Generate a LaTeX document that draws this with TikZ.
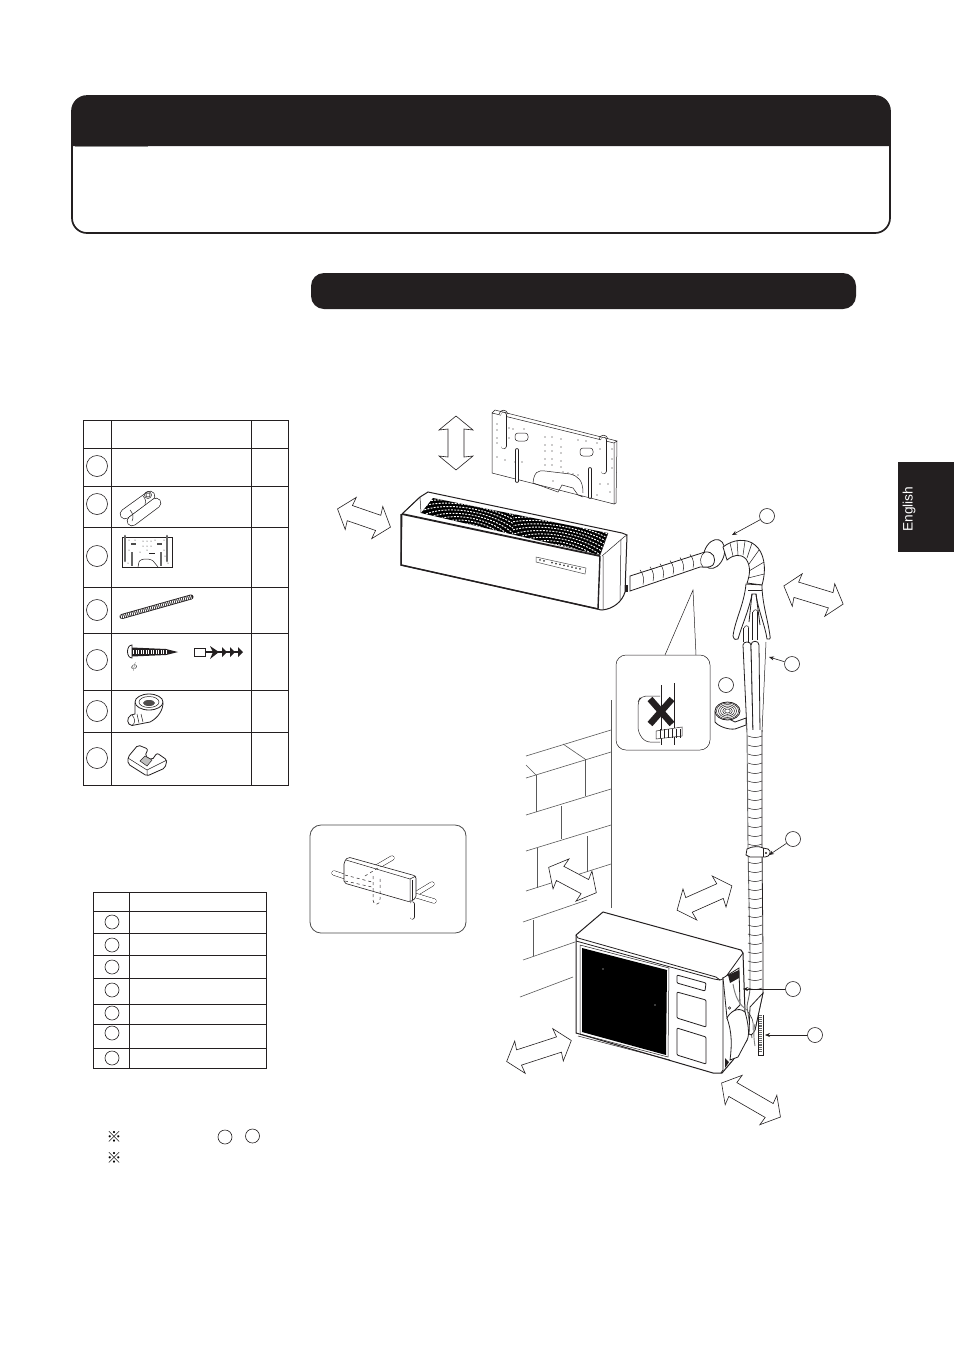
\documentclass[tikz,border=0pt]{standalone}
\usepackage{fontspec}
\setmainfont{Liberation Sans}
\newfontfamily\markfont{Noto Sans CJK SC}
\usetikzlibrary{arrows.meta}
\definecolor{inkblack}{HTML}{231F20}
\tikzset{
  outline/.style={draw=inkblack,line width=0.8pt},
  thinline/.style={draw=inkblack,line width=0.5pt},
  wallline/.style={draw=black!65,line width=0.6pt},
  callout/.style={circle,draw=inkblack,line width=0.6pt,inner sep=0pt,minimum size=15pt},
  bigmark/.style={circle,draw=inkblack,line width=0.6pt,inner sep=0pt,minimum size=21pt},
  smallmark/.style={circle,draw=inkblack,line width=0.6pt,inner sep=0pt,minimum size=14pt},
  callarrow/.style={draw=inkblack,line width=0.6pt,-{Stealth[length=5pt,width=4pt]}},
  tube/.style={draw=inkblack,double=white,double distance=4pt,line width=0.5pt,line cap=round},
  fattube/.style={draw=inkblack,double=white,double distance=9pt,line width=0.7pt,line cap=round},
  grilleline/.style={draw=white,line width=0.95pt,dash pattern=on 1.9pt off 1.3pt},
}
% wide double headed arrow: centre x, centre y, angle, half length
\newcommand{\widearrow}[4]{
  \draw[outline,fill=white,line width=0.6pt,shift={(#1,#2)},rotate=#3]
    (-#4,0) -- (-#4+14,17) -- (-#4+13,8) -- (#4-13,8) -- (#4-14,17) -- (#4,0)
    -- (#4-14,-17) -- (#4-13,-8) -- (-#4+13,-8) -- (-#4+14,-17) -- cycle;
}
\begin{document}
\begin{tikzpicture}[x=1pt,y=-1pt]
  \useasboundingbox (0,0) rectangle (954,1350);
  \fill[white] (0,0) rectangle (954,1350);

  % Header
  \draw[inkblack,line width=1.7pt,rounded corners=15pt] (72,96) rectangle (890,233);
  \fill[inkblack] (72,146) -- (72,111) .. controls (72,102) and (78,96) .. (87,96)
    -- (875,96) .. controls (884,96) and (890,102) .. (890,111) -- (890,146) -- cycle;
  \draw[black!45,line width=0.8pt] (75,146.5) -- (148,146.5);
  \fill[inkblack,rounded corners=13pt] (311,273) rectangle (856,309);

  % Language tab
  \fill[inkblack] (898,462) rectangle (954,552);
  \node[rotate=90,text=white,font=\fontsize{13.7}{16}\selectfont] (language) at (909,509) {English};

  % Parts table
  \draw[outline] (83,420) rectangle (288,785.5);
  \foreach \yy in {448,486,527,587,633,690,732} {
    \draw[outline] (83,\yy) -- (288,\yy);
  }
  \draw[outline] (111.5,420) -- (111.5,785.5);
  \draw[outline] (251,420) -- (251,785.5);
  \foreach \i/\yy in {1/466,2/504,3/556,4/610,5/660,6/711,7/758} {
    \node[bigmark] (part\i) at (97,\yy) {};
  }

  % Parts: tubes
  \draw[fattube] (125,514) -- (150,496);
  \draw[fattube] (132,521) -- (156,503);
  \draw[thinline] (148,495) circle (3.5pt) (148,495) circle (2pt);
  \draw[thinline] (130,510) .. controls (133,513) and (134,518) .. (132,521);
  \draw[thinline] (143,496) .. controls (146,499) and (146,502) .. (145,505);

  % Parts: small plate
  \draw[thinline,fill=white] (122,537) rectangle (172,567);
  \draw[draw=black!60,line width=2.6pt,line cap=round] (125,536) -- (125,561);
  \draw[draw=black!60,line width=2.6pt,line cap=round] (167,536) -- (167,561);
  \draw[draw=black!60,line width=2pt] (132,552) -- (132,566);
  \draw[draw=black!60,line width=2pt] (161,552) -- (161,566);
  \draw[thinline] (138,567) -- (139,562) .. controls (140,558) and (152,558) .. (154,562) -- (158,567);
  \draw[black!70,line width=2.2pt] (131,544) -- (136,544) (157,544) -- (162,544);
  \draw[inkblack,line width=0.8pt] (149,553) -- (155,553);
  \foreach \xx/\yy in {129/540,129/550,143/541,147/541,151/541,143/546,147/546,151/546,147/550,140/552,164/540,164/550,155/540,135/540,128/563,168/563,165/556} {
    \fill[inkblack] (\xx,\yy) circle (0.5pt);
  }

  % Parts: threaded rod
  \draw[inkblack,line width=5pt,line cap=round] (122,616.5) -- (191,597);
  \draw[white,line width=3.4pt,dash pattern=on 0.9pt off 1pt] (121,616.8) -- (192,596.7);

  % Parts: screw and anchor
  \draw[outline,fill=white] (132,645) .. controls (126,645) and (126,658) .. (132,658) -- cycle;
  \fill[inkblack] (132,647.5) -- (166,649) -- (178,652) -- (166,655) -- (132,656.5) -- cycle;
  \draw[white,line width=4pt,dash pattern=on 1pt off 1.5pt] (133,652) -- (166,652);
  \node[font=\normalsize] (screwsize) at (134,667) {$\phi$};
  \draw[thinline,fill=white] (194,648) rectangle (205,656);
  \draw[inkblack,line width=1.3pt] (205,652) -- (240,652);
  \fill[inkblack] (210,646) -- (219,652) -- (210,659) -- (213,652) -- cycle;
  \foreach \xx in {222,230,238} {\fill[inkblack] (\xx,647) -- (\xx+5,652) -- (\xx,657) -- cycle;}

  % Parts: drain elbow
  \draw[outline,fill=white] (135,703) -- (135,714) -- (131,715) .. controls (126,718) and (127,725) .. (132,725.5)
    -- (150,722) .. controls (158,718) and (163,710) .. (163,703);
  \draw[outline,fill=white] (149,702) ellipse (14pt and 8pt);
  \draw[thinline] (149,702) ellipse (10pt and 5.5pt);
  \fill[inkblack!80] (149,703) ellipse (6pt and 3pt);
  \draw[thinline] (132,715) .. controls (135,718) and (136,723) .. (132,725.5);
  \draw[thinline] (137,714) -- (139,723) (141,714) -- (143,722);

  % Parts: clip
  \draw[outline,fill=white,rounded corners=2pt] (128,757) -- (138,745) -- (148,749) -- (145,756) -- (152,760)
    -- (157,753) -- (167,760) -- (165,768) -- (147,776) -- (128,764) -- cycle;
  \draw[thinline] (128,758) -- (147,770) -- (167,760) (147,770) -- (147,776);
  \draw[thinline,fill=black!25] (145,756) -- (152,760) -- (147,766) -- (140,761) -- cycle;

  % Second table
  \draw[outline] (93.5,892) rectangle (266.5,1068);
  \foreach \yy in {911,933,955,978,1004,1024,1048} {
    \draw[outline] (93.5,\yy) -- (266.5,\yy);
  }
  \draw[outline] (129,892) -- (129,1068);
  \foreach \i/\yy in {1/922,2/945,3/967,4/990,5/1013,6/1033,7/1058} {
    \node[smallmark] (tool\i) at (112,\yy) {};
  }

  % Notes
  \node[font=\markfont\fontsize{15}{17}\selectfont] (noteA) at (114,1137) {※};
  \node[font=\markfont\fontsize{15}{17}\selectfont] (noteB) at (114,1158) {※};
  \node[smallmark] (noteC) at (225,1137) {};
  \node[smallmark] (noteD) at (252.5,1136) {};

  % Level inset
  \draw[draw=black!70,line width=0.8pt,rounded corners=11pt] (310,825) rectangle (466,933);
  \draw[tube] (334,873) -- (346,877);
  \draw[tube] (392,858) -- (375,868);
  \draw[tube] (432,884) -- (414,895);
  \draw[tube] (434,901) -- (414,895);
  \draw[tube] (412,904) -- (412,917);
  \draw[outline,line width=0.6pt,fill=white,rounded corners=2pt] (344,862) -- (348,857) -- (416,876) -- (416,898) -- (410,902) -- (344,883) -- cycle;
  \draw[thinline] (346,860) -- (410,879) -- (410,902) (410,879) -- (416,876);
  \draw[thinline] (412,880) -- (412,900);
  \draw[thinline,dashed] (373,876) -- (373,899) .. controls (373,906) and (380,906) .. (380,899) -- (380,876);
  \draw[thinline,dashed] (345,875) -- (372,882) (345,881) -- (372,887) (365,876) -- (381,866);

  % Wall
  \draw[wallline] (611,700) -- (611,908);
  \foreach \xa/\ya/\xb/\yb in {526/756/611/730,526/778/611/752,526/815/611/789,526/851/611/825,526/891/611/864,
      523/922/587/900,523/960/575/942,520/997/573/977,
      563/744/585/759,526/765/536/775,536/775/536/812,585/759/585/796,561/806/561/839,
      537/848/537/888,587/836/587/872,533/920/533/956} {
    \draw[wallline] (\xa,\ya) -- (\xb,\yb);
  }

  % Back plate
  \draw[thinline,fill=white] (492,413) -- (614,443) -- (614,504) -- (492,473) -- cycle;
  \draw[thinline] (495,410) -- (617,441) -- (614,443) (492,413) -- (495,410) (617,441) -- (616,503) -- (614,504);
  \draw[tube,double distance=5pt] (503.5,415) -- (503.5,446);
  \draw[tube,double distance=5pt] (603.5,440) -- (603.5,471);
  \draw[thinline] (499,414) .. controls (500,409) and (507,409) .. (508,414);
  \draw[thinline] (599,439) .. controls (600,434) and (607,434) .. (608,439);
  \draw[tube,double distance=2.6pt] (517,450) -- (517,481);
  \draw[tube,double distance=2.6pt] (590,469) -- (590,497);
  \draw[thinline] (533,483) .. controls (534,472) and (538,470) .. (545,471) -- (570,474) .. controls (578,476) and (583,480) .. (583,493);
  \draw[thinline] (533,483) -- (558,492) -- (562,485) -- (573,488) -- (578,495) -- (583,497);
  \draw[thinline,rounded corners=3pt] (515,433) rectangle (528,441);
  \draw[thinline,rounded corners=3pt] (580,448) rectangle (593,456);
  \foreach \xx/\yy in {497/424,497/430,497/438,497/443,509/428,513/429,524/429,509/438,497/457,505/460,515/462,522/462,
      545/437,552/437,561/439,545/445,552/445,561/447,545/451,552/451,561/453,545/459,552/459,561/461,545/465,552/465,561/467,
      563/472,568/473,573/474,578/475,553/481,600/484,608/484,610/492,597/495,612/449,612/459,612/468,600/449,578/440,586/441,597/443} {
    \fill[inkblack] (\xx,\yy) circle (0.6pt);
  }

  % Indoor unit
  \draw[outline,line width=1pt,fill=white] (402,514) -- (420,497) -- (428,492) -- (622,533) -- (627,535)
    -- (625,592) .. controls (622,602) and (613,609) .. (602,610) .. controls (600,610) and (599,609.5) .. (598,609)
    -- (401,565) -- cycle;
  \fill[black] (421,513) -- (433,498) -- (608,533) -- (600,555) -- cycle;
  \begin{scope}
    \clip (421,513) -- (433,498) -- (608,533) -- (600,555) -- cycle;
    \begin{scope}
      \clip (415,490) rectangle (513,560);
      \foreach \rr in {8,14,...,110} {
        \draw[grilleline,rotate around={-12:(470,538)}] (470,538) ellipse ({\rr*1.15} and {\rr*0.52});
      }
    \end{scope}
    \begin{scope}
      \clip (513,490) rectangle (615,565);
      \foreach \rr in {8,14,...,110} {
        \draw[grilleline,rotate around={-12:(560,562)}] (560,562) ellipse ({\rr*1.15} and {\rr*0.52});
      }
    \end{scope}
  \end{scope}
  \draw[inkblack,line width=1.8pt] (402,514) -- (600,556);
  \draw[inkblack,line width=1.5pt] (401,514) -- (401,565) -- (598,609);
  \draw[thinline] (402,514) -- (420,497) (420,497) -- (421,513);
  \draw[inkblack,line width=1.4pt] (600,556) -- (598,609);
  \draw[thinline] (602,556) -- (624,537) -- (627,535) (603,556) -- (603,609);
  \draw[thinline] (621,540) -- (620,600);
  \draw[thinline] (600,555) -- (608,533);
  \draw[thinline,draw=black!70] (536,557) -- (586,568) -- (585,574) -- (536,562) -- cycle;
  \foreach \xx in {540,544,552,556,560,564,568,572,576,580} {
    \fill[black!75] (\xx,{559+(\xx-536)*0.225}) circle (1pt);
  }
  \fill[inkblack] (625,585) rectangle (628,592);

  % Wall flange, then the pipe with its end in front of it
  \draw[outline,fill=white,rotate around={-20:(714,554)}] (714,554) ellipse (10pt and 15pt);
  \draw[outline,fill=white] (630,576) -- (705,552) .. controls (713,551) and (717,558) .. (713,565)
    .. controls (710,568) and (704,567) .. (700,567) -- (630,591) -- cycle;
  \draw[thinline] (705,552) .. controls (700,555) and (699,563) .. (703,567);
  \foreach \xa in {640,650,...,690} {
    \draw[thinline] (\xa,{573-(\xa-630)*0.31}) .. controls ({\xa+4},{578-(\xa-630)*0.31}) and ({\xa+4},{583-(\xa-630)*0.31}) .. ({\xa+3},{588-(\xa-630)*0.34});
  }

  % Hose bend
  \draw[outline,fill=white] (723,547) .. controls (733,539) and (747,538) .. (755,545)
    .. controls (764,552) and (767,568) .. (762,585) -- (747,583)
    .. controls (750,575) and (751,566) .. (746,559) .. controls (740,553) and (733,555) .. (727,560) -- cycle;
  \foreach \xa/\ya/\xb/\yb in {730/543/733/556,737/540/738/555,745/541/743/555,752/543/747/558,759/550/749/564,764/562/749/571,764/574/748/578} {
    \draw[thinline] (\xa,\ya) -- (\xb,\yb);
  }

  % Taped flare and tubes
  \draw[outline,fill=white] (746,584) .. controls (744,605) and (735,620) .. (733,636) .. controls (734,640) and (736,640) .. (738,639)
    .. controls (742,625) and (749,610) .. (752,594) -- (756,594)
    .. controls (758,610) and (765,625) .. (767,639) .. controls (769,640) and (771,639) .. (770,636)
    .. controls (768,620) and (762,603) .. (762,585) -- cycle;
  \draw[thinline] (748,590) -- (762,590);
  \draw[inkblack,line width=0.5pt,double=white,double distance=4.2pt] (746,628) -- (746,642);
  \draw[inkblack,line width=0.5pt,double=white,double distance=4.2pt] (755,612) -- (755,640);
  \draw[thinline] (744,628) .. controls (745,625) and (748,625) .. (749,628);
  \draw[thinline] (753,612) .. controls (754,609) and (757,609) .. (758,612);
  \draw[outline] (752,594) -- (749,622) (756,594) -- (760,625);
  \draw[outline,fill=white] (743,645) .. controls (743,641) and (751,641) .. (751,645) -- (753,732) -- (747,732) -- cycle;
  \draw[outline,fill=white] (751,645) .. controls (751,640) and (759,640) .. (759,645) -- (760,732) -- (753,732) -- cycle;
  \draw[thinline] (766,642) -- (762,732);

  % Cable coil
  \draw[outline,fill=white] (715,712) -- (715,722) .. controls (718,726) and (728,730) .. (735,729) -- (746,725) -- (746,718) -- (735,722) -- cycle;
  \draw[outline,fill=white] (727.5,711) ellipse (12.5pt and 9pt);
  \foreach \rr in {2,3.5,...,9} {
    \draw[inkblack,line width=0.5pt] (727.5,711) ellipse ({\rr*1.39} and {\rr});
  }

  % Hose going down
  \fill[white] (747,730) rectangle (761,1000);
  \draw[draw=black!60,line width=0.9pt] (747,730) -- (748,847) -- (750,953) -- (750,987) .. controls (750,995) and (747,1003) .. (747,1007);
  \draw[outline] (762,730) -- (762,847) -- (763,953) -- (763,993) -- (755,1030);
  \draw[draw=black!60,line width=0.9pt] (747,1007) -- (752,1038);
  \foreach \yy in {736,745,...,988} {
    \draw[thinline] (748,\yy) .. controls (753,{\yy+2}) and (757,{\yy+2}) .. (762,\yy);
  }

  % Outdoor unit
  \draw[outline,line width=1pt,fill=white] (576,935) -- (603,912) -- (741,950) -- (743,953) -- (745,1012) -- (747,1040)
    -- (733,1060) -- (722,1073) -- (713,1073) -- (576,1033) -- cycle;
  \draw[outline] (576,935) -- (578,938) -- (716,977) -- (720,980) -- (725,978) -- (743,953);
  \draw[outline] (576,941) -- (714,979) -- (720,980);
  \draw[outline] (723,977) -- (723,1070) -- (721,1073);
  \fill[black] (582,948) -- (667,970) -- (666,1055) -- (582,1032) -- cycle;
  \draw[thinline] (580,945) -- (669,968) -- (668,1057) -- (580,1034) -- cycle;
  \draw[thinline] (578,1036) -- (670,1060);
  \fill[white] (603,969) circle (0.6pt) (655,1005) circle (0.6pt);
  \foreach \xa/\ya/\xb/\yb/\xc/\yc/\xd/\yd in {677/975/706/983/705/991/677/983,677/992/706/1000/706/1027/677/1018,677/1028/706/1037/706/1064/677/1055} {
    \draw[outline,rounded corners=1pt] (\xa,\ya) -- (\xb,\yb) -- (\xc,\yc) -- (\xd,\yd) -- cycle;
  }

  % Outdoor unit: side cover and pipes
  \draw[outline,fill=white] (723,978) -- (739,968) -- (740,1005) -- (727,1018) -- cycle;
  \fill[inkblack] (728,975) -- (739,970) -- (739,978) -- (730,983) -- cycle;
  \draw[draw=black!50,line width=1pt] (733,984) .. controls (735,996) and (739,1005) .. (747,1010);
  \draw[outline,fill=white] (727,1018) .. controls (730,1012) and (738,1006) .. (745,1012)
    .. controls (748,1022) and (750,1035) .. (747,1040) -- (738,1057) -- (730,1060)
    .. controls (732,1045) and (732,1032) .. (727,1018);
  \fill[inkblack] (725,1058) -- (729,1062) -- (725,1068) -- cycle;
  \draw[thinline] (729.5,1008) circle (1.3pt);

  % Hose end and drain hose
  \draw[outline,fill=white] (750,1007) -- (763,993) -- (755,1030) .. controls (753,1034) and (751,1036) .. (749,1034) -- cycle;
  \draw[thinline] (748,1012) .. controls (752,1018) and (754,1020) .. (753,1030);
  \draw[black!60,line width=3.6pt,dash pattern=on 1pt off 0.9pt] (760.5,1015) -- (760.5,1052);
  \draw[thinline] (758.5,1015) -- (758.5,1055) -- (763,1055) -- (763,1015);
  \draw[draw=black!50,line width=0.9pt] (755,1024) .. controls (753,1030) and (754,1040) .. (755,1046);

  % Clamp on the hose
  \draw[outline,fill=white] (747,849) .. controls (752,846) and (760,846) .. (763,848) -- (768,849)
    .. controls (772,851) and (770,857) .. (765,857) -- (750,857) -- (746,855) -- cycle;
  \draw[thinline] (763,848) -- (763,857);
  \fill[inkblack] (766,853) circle (1.2pt);

  % Inset with the crossed out hose
  \draw[thinline,fill=white,rounded corners=10pt] (616,655) rectangle (710,750);
  \fill[white] (666,654) -- (693,590) -- (697,654) -- cycle;
  \draw[thinline] (665,655) -- (693,590) -- (696,655);
  \draw[thinline,rounded corners=5pt] (660,696) -- (641,696) -- (638,702) -- (638,732) -- (645,742) -- (660,742);
  \draw[inkblack,line width=0.6pt] (661,685) -- (661,745);
  \draw[inkblack,line width=0.6pt] (674,683) -- (674,745);
  \draw[thinline,fill=white] (656,731) -- (682,727) -- (682,736) -- (656,739) -- cycle;
  \foreach \xx in {660,664,...,680} {\draw[thinline] (\xx,729) -- (\xx,738);}
  \draw[inkblack,line width=6.5pt] (650,699) -- (672,724);
  \draw[inkblack,line width=6.5pt] (672,699) -- (650,724);

  % Wide arrows
  \widearrow{456}{443}{90}{27}
  \widearrow{364}{518}{-19}{28}
  \widearrow{813.5}{595}{-17}{31}
  \widearrow{572.5}{880}{-28}{27}
  \widearrow{704.5}{898}{24}{30}
  \widearrow{539}{1051}{18}{34}
  \widearrow{751}{1100}{-30}{34}

  % Callouts
  \node[callout] (calloutA) at (767,516) {};
  \node[callout] (calloutB) at (792,664) {};
  \node[callout] (calloutC) at (726,685) {};
  \node[callout] (calloutD) at (793,839) {};
  \node[callout] (calloutE) at (793,989) {};
  \node[callout] (calloutF) at (815,1035) {};
  \coordinate (flange) at (732,535);
  \coordinate (tubes) at (769,657);
  \coordinate (clamp) at (769,855);
  \coordinate (cover) at (743,989);
  \coordinate (drain) at (765,1035);
  \draw[callarrow] (calloutA) -- (flange);
  \draw[callarrow] (calloutB) -- (tubes);
  \draw[callarrow] (calloutD) -- (clamp);
  \draw[callarrow] (calloutE) -- (cover);
  \draw[callarrow] (calloutF) -- (drain);
\end{tikzpicture}
\end{document}
